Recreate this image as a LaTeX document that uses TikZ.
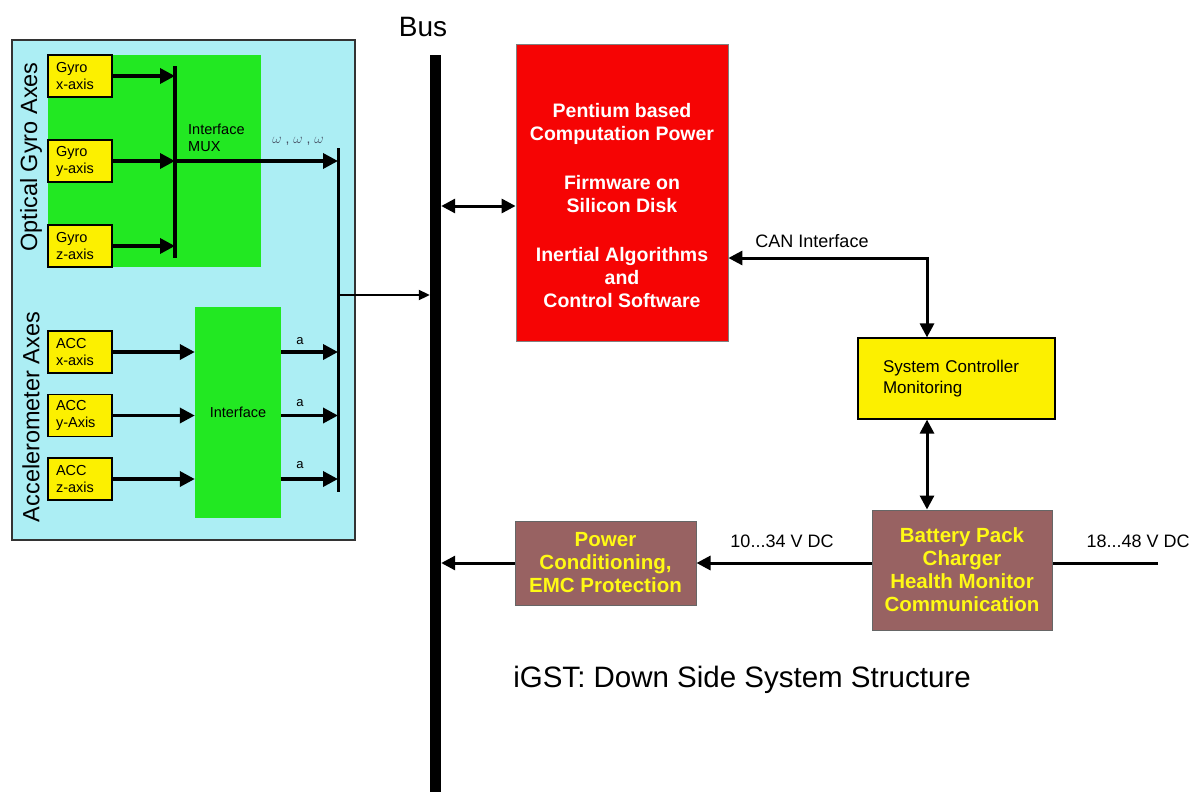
\documentclass[tikz,border=0pt]{standalone}
\usepackage{fontspec}
\setmainfont{Liberation Sans}
\usetikzlibrary{arrows.meta,calc}
\definecolor{panelcyan}{RGB}{172,238,244}
\definecolor{blockgreen}{RGB}{34,232,34}
\definecolor{sensoryellow}{RGB}{252,240,0}
\definecolor{cpured}{RGB}{246,4,4}
\definecolor{powerbrown}{RGB}{152,98,98}
\definecolor{labelyellow}{RGB}{255,250,20}
\definecolor{omegablue}{RGB}{70,80,100}
\begin{document}
\begin{tikzpicture}[x=1pt,y=-1pt,
  panel/.style={draw=black!80, line width=1.2pt, fill=panelcyan, inner sep=0pt,
    minimum width=343pt, minimum height=500pt},
  greenblock/.style={fill=blockgreen, inner sep=0pt},
  sensor/.style={draw=black, line width=1.2pt, fill=sensoryellow,
    minimum width=64pt, minimum height=42pt, text width=48pt, inner xsep=8pt,
    align=left, font=\fontsize{14.5}{17}\selectfont},
  sidetitle/.style={rotate=90, font=\fontsize{23.5}{26}\selectfont},
  small/.style={font=\fontsize{14.5}{17}\selectfont},
  note/.style={font=\fontsize{18}{21}\selectfont},
  thickarrow/.style={line width=3.5pt, -{Triangle[length=15pt,width=15pt]}},
  bar/.style={line width=3pt},
  link/.style={line width=3pt, {Triangle[length=14pt,width=14pt]}-{Triangle[length=14pt,width=14pt]}},
  feed/.style={line width=3pt, -{Triangle[length=14pt,width=14pt]}},
  brownbox/.style={draw=black!60, line width=1pt, fill=powerbrown, text=labelyellow,
    align=center, font=\bfseries\fontsize{20.5}{23}\selectfont, inner sep=0pt}
]
\useasboundingbox (0,0) rectangle (1198,792);

% ---------------- sensor panel ----------------
\node[panel] (panel) at (183.5,290) {};
\node[greenblock, minimum width=213pt, minimum height=212pt] (mux) at (154.5,161) {};
\node[greenblock, minimum width=86pt, minimum height=211pt] (iface) at (238,412.5) {};
\node[small, align=left, anchor=north west, inner sep=0pt] (muxlbl) at (188,124) {Interface\\MUX};
\node[small, inner sep=0pt] (ifacelbl) at (238,412.5) {Interface};

\node[sidetitle] (gyrotitle) at (31,157) {Optical Gyro Axes};
\node[sidetitle] (acctitle) at (31,417) {Accelerometer Axes};

\node[sensor] (gx) at (80,76) {Gyro\\x-axis};
\node[sensor] (gy) at (80,161) {Gyro\\y-axis};
\node[sensor] (gz) at (80,246) {Gyro\\z-axis};
\node[sensor] (ax) at (80,352) {ACC\\x-axis};
\node[sensor] (ay) at (80,415.5) {ACC\\y-Axis};
\node[sensor] (az) at (80,479) {ACC\\z-axis};

% collecting bars
\coordinate (muxT) at (175,66);
\coordinate (muxB) at (175,258);
\coordinate (outT) at (338,148);
\coordinate (outB) at (338,492);
\coordinate (tap) at (338,295);
\draw[bar, line width=3.5pt] (muxT) -- (muxB);
\draw[bar] (outT) -- (outB);

% gyro channels into the multiplexer
\draw[thickarrow] (gx.east) -- (gx.east -| muxT);
\draw[thickarrow] (gy.east) -- (gy.east -| muxT);
\draw[thickarrow] (gz.east) -- (gz.east -| muxT);
\draw[thickarrow] (gy.east -| muxT) -- (gy.east -| outT);
\node[text=omegablue, font=\fontsize{14}{15}\selectfont, inner sep=0pt] (omega) at (298,141)
  {$\omega$ , $\omega$ , $\omega$};

% accelerometer channels
\draw[thickarrow] (ax.east) -- (ax.east -| iface.west);
\draw[thickarrow] (ay.east) -- (ay.east -| iface.west);
\draw[thickarrow] (az.east) -- (az.east -| iface.west);
\draw[thickarrow] (ax.east -| iface.east) -- (ax.east -| outT);
\draw[thickarrow] (ay.east -| iface.east) -- (ay.east -| outT);
\draw[thickarrow] (az.east -| iface.east) -- (az.east -| outT);
\node[font=\fontsize{13}{14}\selectfont, inner sep=0pt] (a1) at (300,341) {a};
\node[font=\fontsize{13}{14}\selectfont, inner sep=0pt] (a2) at (300,403) {a};
\node[font=\fontsize{13}{14}\selectfont, inner sep=0pt] (a3) at (300,465) {a};

% ---------------- bus ----------------
\node[fill=black, inner sep=0pt, minimum width=11pt, minimum height=737pt] (bus) at (435.5,423.5) {};
\node[font=\fontsize{28}{30}\selectfont] (buslbl) at (423,27) {Bus};
\draw[line width=2pt, -{Triangle[length=11pt,width=10pt]}] (tap) -- (tap -| bus.west);

% ---------------- computer ----------------
\node[fill=cpured, draw=black!50, line width=0.8pt, minimum width=212pt, minimum height=297pt,
  inner sep=0pt,
  label={[text=white, align=center, font=\bfseries\fontsize{19.5}{23}\selectfont, yshift=-13pt]center:
    Pentium based\\Computation Power\\[26pt]Firmware on\\Silicon Disk\\[26pt]Inertial Algorithms\\and\\Control Software}]
  (cpu) at (622,192.5) {};
\coordinate (cpuio) at (516,206);
\draw[link] (cpuio -| bus.east) -- (cpuio -| cpu.west);

% ---------------- system controller ----------------
\node[draw=black, line width=1.2pt, fill=sensoryellow, minimum width=197pt, minimum height=81pt,
  text width=147pt, inner xsep=25pt, align=left, font=\fontsize{17}{21}\selectfont]
  (sys) at (956.5,378.5) {System Controller\\Monitoring};
\coordinate (canx) at (927,258);
\draw[link] (canx -| cpu.east) -- (canx) -- (canx |- sys.north);
\node[note] (canlbl) at (812,241) {CAN Interface};

% ---------------- power path ----------------
\node[brownbox, minimum width=180pt, minimum height=120pt] (bat) at (962,570)
  {Battery Pack\\Charger\\Health Monitor\\Communication};
\node[brownbox, minimum width=181pt, minimum height=84pt] (pwr) at (605.5,563)
  {Power\\Conditioning,\\EMC Protection};
\draw[link] (canx |- sys.south) -- (canx |- bat.north);
\coordinate (vin) at (1158,563);
\draw[line width=3pt] (vin) -- (vin -| bat.east);
\draw[feed] (pwr.east -| bat.west) -- (pwr.east);
\draw[feed] (pwr.west) -- (pwr.west -| bus.east);
\node[note] (v1) at (782,541) {10...34 V DC};
\node[note, anchor=west] (v2) at (1083,541) {18...48 V DC};

\node[font=\fontsize{29.5}{32}\selectfont] (title) at (742,680) {iGST: Down Side System Structure};
\end{tikzpicture}
\end{document}
